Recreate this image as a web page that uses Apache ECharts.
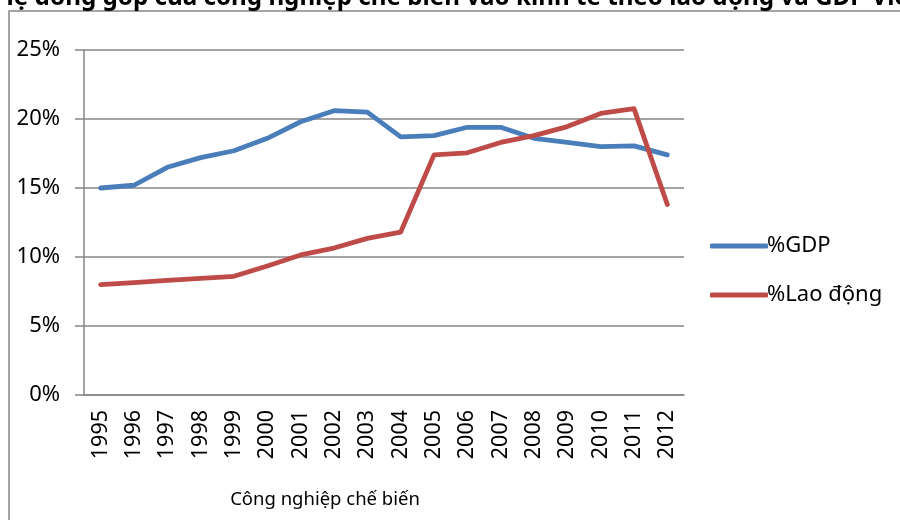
<!DOCTYPE html>
<html>
<head>
<meta charset="utf-8">
<script src="https://cdn.jsdelivr.net/npm/echarts@6/dist/echarts.min.js"></script>
<style>
  html, body { margin: 0; padding: 0; background: #fff; }
  #chart { width: 900px; height: 520px; }
</style>
</head>
<body>
<div id="chart"></div>
<script>
// Data (percent)
var years = ["1995", "1996", "1997", "1998", "1999", "2000", "2001", "2002", "2003",
  "2004", "2005", "2006", "2007", "2008", "2009", "2010", "2011", "2012"];
var gdpShare = [15.0, 15.2, 16.5, 17.2, 17.7, 18.6, 19.8, 20.6, 20.5,
  18.7, 18.8, 19.4, 19.4, 18.6, 18.3, 18.0, 18.05, 17.4];
var laborShare = [8.0, 8.15, 8.3, 8.45, 8.6, 9.35, 10.15, 10.65, 11.35,
  11.8, 17.4, 17.55, 18.3, 18.8, 19.45, 20.4, 20.75, 13.8];
var groupLabel = ["Công nghiệp chế biến"];
var seriesNames = ["%GDP", "%Lao động"];
var titleText = "Tỷ lệ đóng góp của công nghiệp chế biến vào kinh tế theo lao động và GDP Việt Nam";

(function () {
  var el = document.getElementById("chart");
  var chart = echarts.init(el);
  var font = "'Noto Sans', 'DejaVu Sans', sans-serif";
  var grey = "#868686";
  var blue = "#4A7EBB";
  var red = "#BE4B48";

  chart.setOption({
    animation: false,
    backgroundColor: "#fff",
    textStyle: { fontFamily: font },
    title: {
      text: titleText,
      left: -32,
      top: -19,
      textStyle: { fontFamily: font, fontSize: 24.2, fontWeight: "bold", color: "#000" }
    },
    graphic: [
      {
        type: "rect",
        shape: { x: 9, y: 11, width: 1000, height: 600 },
        style: { fill: null, stroke: grey, lineWidth: 1.5 },
        silent: true
      }
    ],
    legend: {
      orient: "vertical",
      left: 705,
      top: 230,
      icon: "roundRect",
      itemWidth: 58,
      itemHeight: 5,
      itemGap: 27,
      data: [
        { name: seriesNames[0], itemStyle: { color: blue } },
        { name: seriesNames[1], itemStyle: { color: red } }
      ],
      textStyle: { fontFamily: font, fontSize: 22, color: "#000", padding: [0, 0, 0, -6] }
    },
    grid: { left: 84, right: 216, top: 50, bottom: 125 },
    xAxis: [
      {
        type: "category",
        data: years,
        boundaryGap: true,
        axisLine: { lineStyle: { color: grey, width: 1.5 } },
        axisTick: { interval: 0, length: 73, lineStyle: { color: grey, width: 1.5 } },
        axisLabel: {
          interval: 0,
          rotate: 90,
          margin: 15,
          fontSize: 21.5,
          color: "#000",
          fontFamily: font
        }
      },
      {
        type: "category",
        data: groupLabel,
        position: "bottom",
        boundaryGap: true,
        axisLine: { show: false },
        axisTick: { interval: 0, length: 125, lineStyle: { color: grey, width: 1.5 } },
        axisLabel: {
          margin: 95,
          fontSize: 18.5,
          color: "#000",
          fontFamily: font,
          padding: [0, 118, 0, 0]
        }
      }
    ],
    yAxis: {
      type: "value",
      min: 0,
      max: 25,
      interval: 5,
      axisLine: { show: true, lineStyle: { color: grey, width: 1.5 } },
      axisTick: { show: true, length: 9, lineStyle: { color: grey, width: 1.5 } },
      axisLabel: {
        margin: 24,
        fontSize: 22,
        color: "#000",
        fontFamily: font,
        formatter: function (v) { return v + "%"; }
      },
      splitLine: { lineStyle: { color: grey, width: 1.5 } }
    },
    series: [
      {
        name: seriesNames[0],
        type: "line",
        data: gdpShare,
        symbol: "none",
        lineStyle: { color: blue, width: 4.8, cap: "round", join: "round" },
        itemStyle: { color: blue }
      },
      {
        name: seriesNames[1],
        type: "line",
        data: laborShare,
        symbol: "none",
        lineStyle: { color: red, width: 4.8, cap: "round", join: "round" },
        itemStyle: { color: red }
      }
    ]
  });
})();
</script>
</body>
</html>
